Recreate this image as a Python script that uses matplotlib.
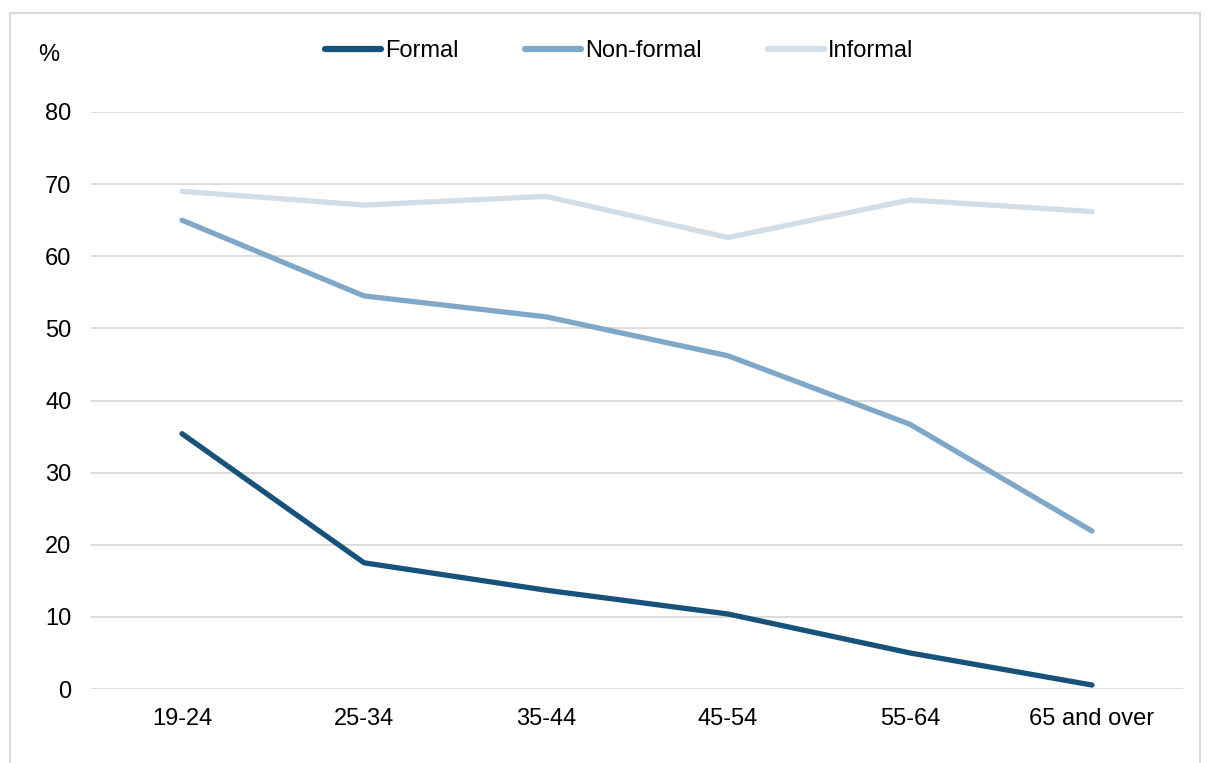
import matplotlib
matplotlib.use("Agg")
import matplotlib.pyplot as plt
from matplotlib.patches import Rectangle

plt.rcParams['font.family'] = ['Liberation Sans', 'DejaVu Sans']

# participation in learning by age group, %
age_groups = ['19-24', '25-34', '35-44', '45-54', '55-64', '65 and over']
formal = [35.4, 17.5, 13.7, 10.4, 5.0, 0.55]
non_formal = [65.0, 54.5, 51.6, 46.2, 36.7, 21.9]
informal = [69.0, 67.1, 68.3, 62.6, 67.8, 66.2]

colors = {'Formal': '#17527a', 'Non-formal': '#7fa8c8', 'Informal': '#d2dee7'}
fs = 17

fig = plt.figure(figsize=(12.07, 7.63), dpi=100)
ax = fig.add_axes([91 / 1207, 1 - 689 / 763, (1183 - 91) / 1207, (689 - 112) / 763])

x = range(len(age_groups))
ax.plot(x, formal, color=colors['Formal'], lw=3.8, solid_capstyle='round', label='Formal', zorder=3)
ax.plot(x, non_formal, color=colors['Non-formal'], lw=3.8, solid_capstyle='round', label='Non-formal', zorder=3)
ax.plot(x, informal, color=colors['Informal'], lw=3.8, solid_capstyle='round', label='Informal', zorder=3)

ax.set_xlim(-0.5, len(age_groups) - 0.5)
ax.set_ylim(0, 80)
ax.set_yticks(range(0, 81, 10))
ax.set_xticks(list(x))
ax.set_xticklabels(age_groups)
ax.grid(axis='y', color='#d9d9d9', lw=1.3)
ax.set_axisbelow(True)
for s in ax.spines.values():
    s.set_visible(False)
ax.tick_params(length=0, labelsize=fs, colors='#000000')
ax.tick_params(axis='y', pad=14)
ax.tick_params(axis='x', pad=14)

fig.text(38 / 1207, 1 - 55 / 763, '%', fontsize=fs, va='center', ha='left')

leg = fig.legend(loc='center', bbox_to_anchor=(619 / 1207, 1 - 51 / 763), ncol=3,
                 frameon=False, fontsize=fs, handlelength=2.4, handletextpad=0.15,
                 columnspacing=2.8)
for h in leg.get_lines():
    h.set_linewidth(4.5)

# light frame around the figure
fig.patches.append(Rectangle((10 / 1207, -0.1), (1200 - 10) / 1207, 1.1 - 13 / 763,
                             transform=fig.transFigure, fill=False,
                             edgecolor='#d9d9d9', lw=1.5))

fig.savefig('out.png', dpi=100)
